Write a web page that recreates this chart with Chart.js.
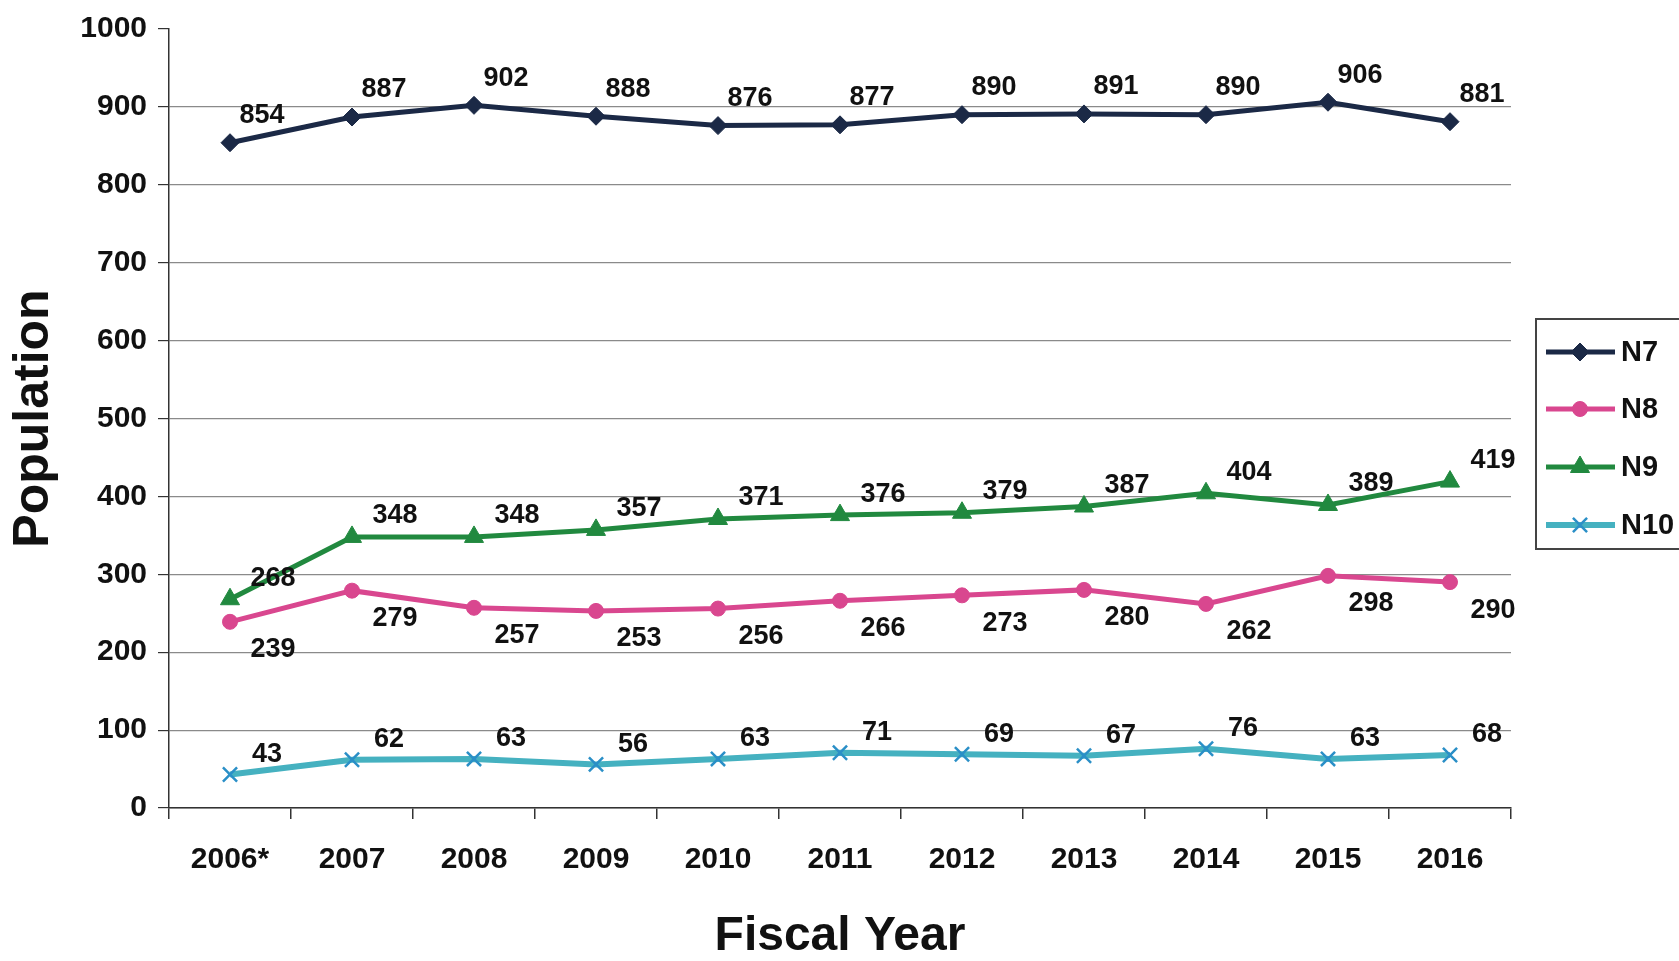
<!DOCTYPE html>
<html>
<head>
<meta charset="utf-8">
<script src="https://cdn.jsdelivr.net/npm/chart.js@4.4.1/dist/chart.umd.min.js"></script>
<style>
  html, body { margin: 0; padding: 0; background: #ffffff; }
  #wrap { width: 1679px; height: 961px; }
</style>
</head>
<body>
<div id="wrap"><canvas id="popChart" width="1679" height="961"></canvas></div>
<script>
// datos
const years = ['2006*', '2007', '2008', '2009', '2010', '2011', '2012', '2013', '2014', '2015', '2016'];
const n7 = [854, 887, 902, 888, 876, 877, 890, 891, 890, 906, 881];
const n8 = [239, 279, 257, 253, 256, 266, 273, 280, 262, 298, 290];
const n9 = [268, 348, 348, 357, 371, 376, 379, 387, 404, 389, 419];
const n10 = [43, 62, 63, 56, 63, 71, 69, 67, 76, 63, 68];
const yTicks = [0, 100, 200, 300, 400, 500, 600, 700, 800, 900, 1000];

const FONT = 'Liberation Sans, Arial, sans-serif';

// desplazamiento de las etiquetas de valor por serie
const labelOffsets = [
    { dx: 32, dy: -27 },
    { dx: 43, dy: 28 },
    { dx: 43, dy: -21 },
    { dx: 37, dy: -20 }
];

const valueLabels = {
    id: 'valueLabels',
    afterDatasetsDraw(chart) {
        const ctx = chart.ctx;
        ctx.save();
        ctx.font = 'bold 27px ' + FONT;
        ctx.fillStyle = '#111';
        ctx.textAlign = 'center';
        ctx.textBaseline = 'middle';
        chart.data.datasets.forEach((ds, i) => {
            const meta = chart.getDatasetMeta(i);
            meta.data.forEach((pt, j) => {
                ctx.fillText(String(ds.data[j]), pt.x + labelOffsets[i].dx, pt.y + labelOffsets[i].dy);
            });
        });
        ctx.restore();
    }
};

// leyenda dibujada a mano (línea + marcador como en Excel)
const boxLegend = {
    id: 'boxLegend',
    afterDraw(chart) {
        const ctx = chart.ctx;
        ctx.save();
        ctx.strokeStyle = '#444';
        ctx.lineWidth = 2;
        ctx.strokeRect(1536, 319, 170, 230);
        const rows = [352, 409, 467, 525];
        chart.data.datasets.forEach((ds, i) => {
            const y = rows[i];
            ctx.strokeStyle = ds.borderColor;
            ctx.lineWidth = ds.borderWidth;
            ctx.beginPath();
            ctx.moveTo(1546, y);
            ctx.lineTo(1615, y);
            ctx.stroke();
            ctx.fillStyle = ds.pointBackgroundColor;
            ctx.strokeStyle = ds.pointBorderColor;
            ctx.lineWidth = ds.pointBorderWidth;
            Chart.helpers.drawPoint(ctx, {
                pointStyle: ds.pointStyle,
                radius: ds.pointRadius,
                borderWidth: ds.pointBorderWidth
            }, 1580, y);
            ctx.fillStyle = '#111';
            ctx.font = 'bold 29px ' + FONT;
            ctx.textAlign = 'left';
            ctx.textBaseline = 'middle';
            ctx.fillText(ds.label, 1621, y + 1);
        });
        ctx.restore();
    }
};

const data = {
    labels: years,
    datasets: [
        {
            label: 'N7',
            data: n7,
            borderColor: '#1b2946',
            borderWidth: 5,
            pointStyle: 'rectRot',
            pointRadius: 9,
            pointBackgroundColor: '#1b2946',
            pointBorderColor: '#1b2946',
            pointBorderWidth: 1,
            tension: 0
        },
        {
            label: 'N8',
            data: n8,
            borderColor: '#d9478f',
            borderWidth: 5,
            pointStyle: 'circle',
            pointRadius: 7.5,
            pointBackgroundColor: '#d9478f',
            pointBorderColor: '#d9478f',
            pointBorderWidth: 1,
            tension: 0
        },
        {
            label: 'N9',
            data: n9,
            borderColor: '#21893f',
            borderWidth: 5,
            pointStyle: 'triangle',
            pointRadius: 11,
            pointBackgroundColor: '#21893f',
            pointBorderColor: '#21893f',
            pointBorderWidth: 1,
            tension: 0
        },
        {
            label: 'N10',
            data: n10,
            borderColor: '#45b1c0',
            borderWidth: 6,
            pointStyle: 'crossRot',
            pointRadius: 10,
            pointBackgroundColor: '#2a8fc7',
            pointBorderColor: '#2a8fc7',
            pointBorderWidth: 2.5,
            tension: 0
        }
    ]
};

const config = {
    type: 'line',
    data: data,
    options: {
        responsive: false,
        animation: false,
        devicePixelRatio: 1,
        layout: { padding: { top: 29, right: 168, left: 0, bottom: 0 } },
        plugins: {
            legend: { display: false },
            tooltip: { enabled: false }
        },
        scales: {
            x: {
                offset: true,
                grid: {
                    offset: true,
                    drawOnChartArea: false,
                    drawTicks: true,
                    tickLength: 11,
                    color: '#333',
                    lineWidth: 1.5
                },
                border: { color: '#333', width: 1.5 },
                ticks: {
                    color: '#111',
                    font: { family: FONT, size: 30, weight: 'bold' },
                    padding: 23,
                    maxRotation: 0
                },
                title: {
                    display: true,
                    text: 'Fiscal Year',
                    color: '#111',
                    font: { family: FONT, size: 48, weight: 'bold', lineHeight: 1 },
                    padding: 0
                },
                afterFit(scale) { scale.height = 153; }
            },
            y: {
                min: 0,
                max: 1000,
                afterBuildTicks(scale) { scale.ticks = yTicks.map(v => ({ value: v })); },
                grid: {
                    color: ctx => (ctx.tick && ctx.tick.value === 1000 ? 'rgba(0,0,0,0)' : '#8a8a8a'),
                    tickColor: '#333',
                    lineWidth: 1.2,
                    tickLength: 11
                },
                border: { color: '#333', width: 1.5 },
                ticks: {
                    color: '#111',
                    font: { family: FONT, size: 30, weight: 'bold' },
                    padding: 11,
                    callback: v => String(v)
                },
                title: {
                    display: true,
                    text: 'Population',
                    color: '#111',
                    font: { family: FONT, size: 50, weight: 'bold', lineHeight: 1 },
                    padding: { top: 9, bottom: 0 }
                },
                afterFit(scale) { scale.width = 169; }
            }
        }
    },
    plugins: [valueLabels, boxLegend]
};

new Chart(document.getElementById('popChart'), config);
</script>
</body>
</html>
